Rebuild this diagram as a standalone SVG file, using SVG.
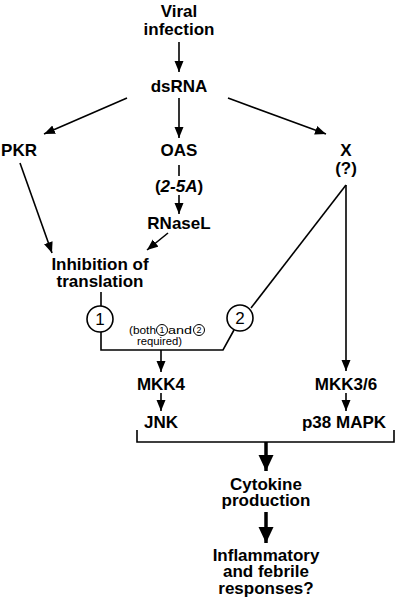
<svg xmlns="http://www.w3.org/2000/svg" width="400" height="603" viewBox="0 0 400 603">
<style>
.t{font-family:"Liberation Sans",Arial,sans-serif;font-weight:bold;font-size:17px;fill:#000;text-anchor:middle}
.s{font-family:"Liberation Sans",Arial,sans-serif;font-size:11px;fill:#000}
.n{font-family:"Liberation Sans",Arial,sans-serif;font-size:17px;fill:#000;text-anchor:middle}
.ns{font-family:"Liberation Sans",Arial,sans-serif;font-size:9px;fill:#000;text-anchor:middle}
.ln{stroke:#000;stroke-width:1.6;fill:none}
.ar{stroke:#000;stroke-width:1.6;fill:none;marker-end:url(#ah)}
.thick{stroke:#000;stroke-width:3.5;fill:none;marker-end:url(#big)}
.c{fill:#fff;stroke:#000;stroke-width:1.6}
.cs{fill:#fff;stroke:#000;stroke-width:1}
</style>
<defs>
<marker id="ah" markerUnits="userSpaceOnUse" markerWidth="12" markerHeight="10" refX="11" refY="4.5" orient="auto">
<path d="M0,0 L11,4.5 L0,9 Z" fill="#000"/>
</marker>
<marker id="big" markerUnits="userSpaceOnUse" markerWidth="17" markerHeight="16" refX="16" refY="7.5" orient="auto">
<path d="M0,0 L16,7.5 L0,15 Z" fill="#000"/>
</marker>
</defs>
<g id="connectors">
<line class="ar" x1="179" y1="42" x2="179" y2="72"/>
<line class="ar" x1="127" y1="98" x2="44" y2="134"/>
<line class="ar" x1="179" y1="98" x2="179" y2="138"/>
<line class="ar" x1="228" y1="98" x2="326" y2="134"/>
<line class="ln" x1="179" y1="165" x2="179" y2="176"/>
<line class="ar" x1="179" y1="195" x2="179" y2="214"/>
<line class="ar" x1="20" y1="163" x2="52" y2="253"/>
<line class="ar" x1="168" y1="233" x2="147" y2="250"/>
<line class="ln" x1="101" y1="292" x2="101" y2="306"/>
<polyline class="ln" points="101,332 101,350 223,350 234,330"/>
<line class="ln" x1="346" y1="185" x2="251" y2="308"/>
<line class="ar" x1="346" y1="185" x2="346" y2="371"/>
<line class="ar" x1="161" y1="350" x2="161" y2="372"/>
<line class="ar" x1="161" y1="393" x2="161" y2="411"/>
<line class="ar" x1="346" y1="393" x2="346" y2="411"/>
<polyline class="ln" points="137,430 137,442 394,442 394,430"/>
<line class="thick" x1="266" y1="442" x2="266" y2="471"/>
<line class="thick" x1="266" y1="512" x2="266" y2="543"/>
</g>
<g id="viral"><text class="t" x="179" y="17">Viral<tspan x="179" dy="18">infection</tspan></text></g>
<g id="dsrna"><text class="t" x="179" y="92">dsRNA</text></g>
<g id="pkr"><text class="t" x="19" y="156">PKR</text></g>
<g id="oas"><text class="t" x="179" y="156">OAS</text></g>
<g id="x"><text class="t" x="346" y="156">X<tspan x="346" dy="18">(?)</tspan></text></g>
<g id="twofiveA"><text class="t" x="179" y="192">(<tspan font-style="italic">2-5A</tspan>)</text></g>
<g id="rnasel"><text class="t" x="179" y="229">RNaseL</text></g>
<g id="inhibition"><text class="t" x="100" y="270">Inhibition of<tspan x="100" dy="17">translation</tspan></text></g>
<g id="c1"><circle class="c" cx="100" cy="319" r="13"/><text class="n" x="100" y="325">1</text></g>
<g id="c2"><circle class="c" cx="240" cy="318" r="13"/><text class="n" x="240" y="324">2</text></g>
<g id="note">
<text class="s" x="129" y="334" textLength="27" lengthAdjust="spacingAndGlyphs">(both</text>
<circle class="cs" cx="162" cy="330" r="5.5"/><text class="ns" x="162" y="333.3">1</text>
<text class="s" x="168" y="334" textLength="24" lengthAdjust="spacingAndGlyphs">and</text>
<circle class="cs" cx="199" cy="330" r="5.5"/><text class="ns" x="199" y="333.3">2</text>
<text class="s" x="137" y="345" textLength="45" lengthAdjust="spacingAndGlyphs">required)</text>
</g>
<g id="mkk4"><text class="t" x="161" y="390">MKK4</text></g>
<g id="jnk"><text class="t" x="161" y="428">JNK</text></g>
<g id="mkk36"><text class="t" x="346" y="390">MKK3/6</text></g>
<g id="p38"><text class="t" x="344" y="428">p38 MAPK</text></g>
<g id="cytokine"><text class="t" x="266" y="490">Cytokine<tspan x="266" dy="16">production</tspan></text></g>
<g id="responses"><text class="t" x="266" y="561">Inflammatory<tspan x="266" dy="16">and febrile</tspan><tspan x="266" dy="17">responses?</tspan></text></g>
</svg>
